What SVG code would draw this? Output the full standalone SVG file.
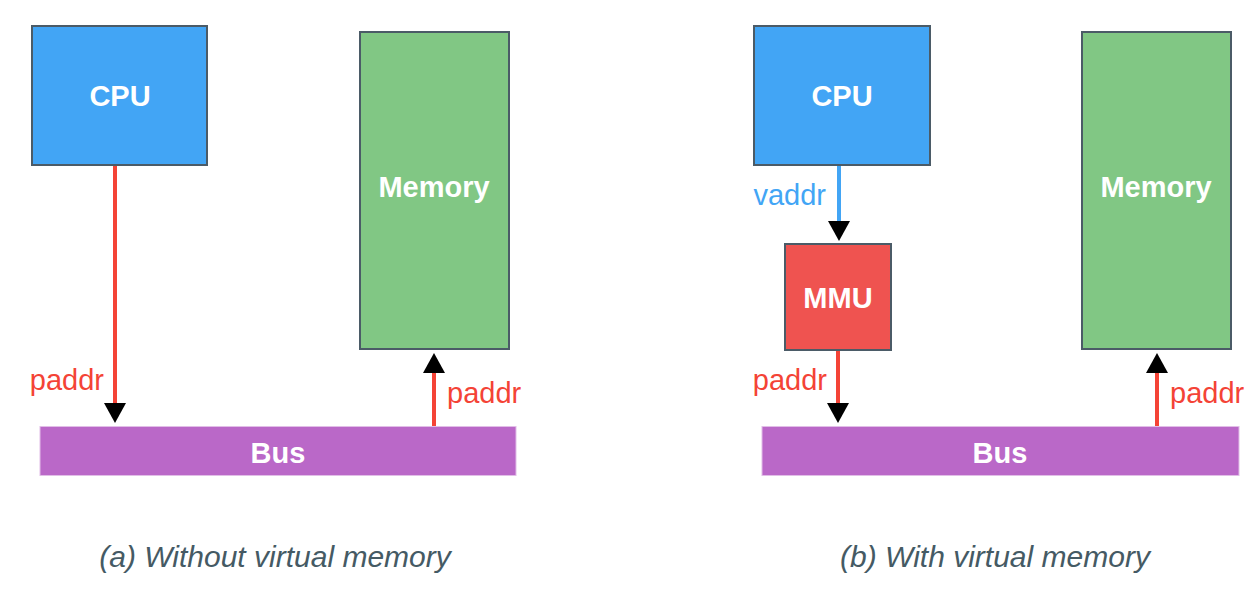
<svg xmlns="http://www.w3.org/2000/svg" width="1260" height="590" viewBox="0 0 1260 590">
  <style>
    .box { stroke: #4b5b67; stroke-width: 2; }
    .cpu { fill: #42a5f5; }
    .mem { fill: #81c784; }
    .mmu { fill: #ef5350; }
    .bus { fill: #ba68c8; stroke: #e1bee7; stroke-width: 1; }
    .nlabel { font-family: "Liberation Sans", Arial, sans-serif; font-weight: bold; font-size: 29px; fill: #ffffff; text-anchor: middle; }
    .elabel { font-family: "Liberation Sans", Arial, sans-serif; font-size: 29px; }
    .red { fill: #f44336; }
    .blue { fill: #42a5f5; }
    .caption { font-family: "Liberation Sans", Arial, sans-serif; font-style: italic; font-size: 30px; fill: #455a64; text-anchor: middle; }
    .wire { stroke-width: 4; fill: none; }
    .wred { stroke: #f44336; }
    .wblue { stroke: #42a5f5; }
  </style>
  <defs>
    <marker id="head" markerUnits="userSpaceOnUse" markerWidth="22" markerHeight="24" refX="0" refY="11" orient="auto" viewBox="0 0 22 22">
      <path d="M0,0 L20,11 L0,22 Z" fill="#000000"/>
    </marker>
  </defs>
  <rect width="1260" height="590" fill="#ffffff"/>

  <!-- (a) Without virtual memory -->
  <g id="cpu-a">
    <rect class="box cpu" x="32" y="26" width="175" height="139"/>
    <text class="nlabel" x="120" y="106">CPU</text>
  </g>
  <g id="memory-a">
    <rect class="box mem" x="360" y="32" width="149" height="317"/>
    <text class="nlabel" x="434" y="197">Memory</text>
  </g>
  <g id="bus-a">
    <rect class="bus" x="40" y="426.5" width="476" height="49"/>
    <text class="nlabel" x="278" y="463">Bus</text>
  </g>

  <!-- (b) With virtual memory -->
  <g id="cpu-b">
    <rect class="box cpu" x="754" y="26" width="176" height="139"/>
    <text class="nlabel" x="842" y="106">CPU</text>
  </g>
  <g id="mmu-b">
    <rect class="box mmu" x="785" y="244" width="106" height="106"/>
    <text class="nlabel" x="838" y="308">MMU</text>
  </g>
  <g id="memory-b">
    <rect class="box mem" x="1082" y="32" width="149" height="317"/>
    <text class="nlabel" x="1156" y="197">Memory</text>
  </g>
  <g id="bus-b">
    <rect class="bus" x="762" y="426.5" width="477" height="49"/>
    <text class="nlabel" x="1000" y="463">Bus</text>
  </g>

  <g id="connectors">
    <line class="wire wred" x1="115" y1="166" x2="115" y2="403" marker-end="url(#head)"/>
    <text class="elabel red" x="104" y="390" text-anchor="end">paddr</text>
    <line class="wire wred" x1="434" y1="426" x2="434" y2="373" marker-end="url(#head)"/>
    <text class="elabel red" x="447" y="403">paddr</text>

    <line class="wire wblue" x1="839" y1="166" x2="839" y2="221" marker-end="url(#head)"/>
    <text class="elabel blue" x="826" y="205" text-anchor="end">vaddr</text>
    <line class="wire wred" x1="838" y1="351" x2="838" y2="403" marker-end="url(#head)"/>
    <text class="elabel red" x="827" y="390" text-anchor="end">paddr</text>
    <line class="wire wred" x1="1157" y1="426" x2="1157" y2="373" marker-end="url(#head)"/>
    <text class="elabel red" x="1170" y="403">paddr</text>
  </g>

  <text class="caption" x="275" y="567">(a) Without virtual memory</text>
  <text class="caption" x="995" y="567">(b) With virtual memory</text>
</svg>
